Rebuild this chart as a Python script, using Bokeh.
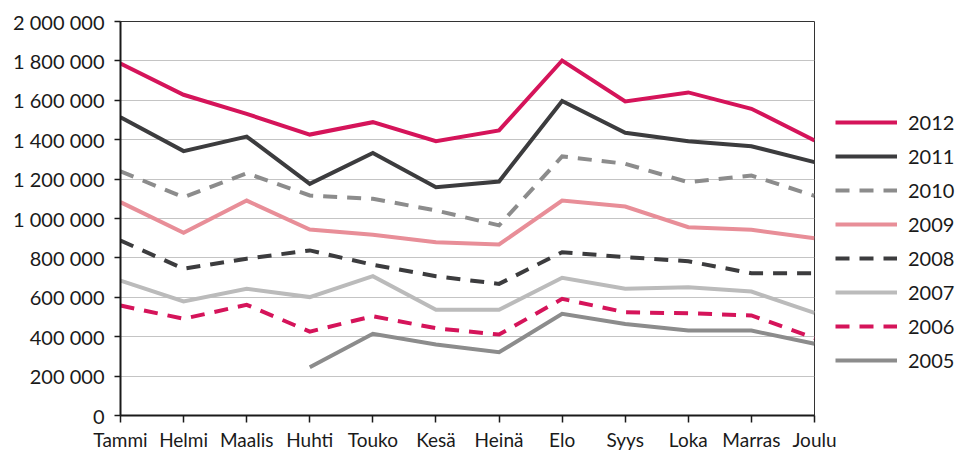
from bokeh.plotting import figure
from bokeh.models import FixedTicker, Legend, LegendItem
from bokeh.embed import file_html
from bokeh.resources import INLINE

nan = float("nan")

months = ["Tammi", "Helmi", "Maalis", "Huhti", "Touko", "Kesä", "Heinä",
          "Elo", "Syys", "Loka", "Marras", "Joulu"]

y2012 = [1787000, 1628000, 1531000, 1426000, 1489000, 1392000, 1447000, 1802000, 1594000, 1640000, 1557000, 1396000]
y2011 = [1514000, 1342000, 1416000, 1176000, 1333000, 1159000, 1188000, 1596000, 1435000, 1392000, 1367000, 1286000]
y2010 = [1239000, 1108000, 1230000, 1117000, 1100000, 1041000, 965000, 1315000, 1278000, 1184000, 1218000, 1115000]
y2009 = [1083000, 927000, 1091000, 944000, 917000, 880000, 868000, 1091000, 1061000, 956000, 943000, 900000]
y2008 = [888000, 745000, 796000, 838000, 765000, 707000, 668000, 829000, 804000, 783000, 722000, 722000]
y2007 = [685000, 579000, 643000, 601000, 707000, 537000, 537000, 699000, 643000, 651000, 629000, 521000]
y2006 = [558000, 491000, 562000, 426000, 504000, 443000, 411000, 592000, 524000, 519000, 508000, 393000]
y2005 = [nan, nan, nan, 245000, 415000, 360000, 321000, 516000, 465000, 431000, 431000, 364000]

years = ["2012", "2011", "2010", "2009", "2008", "2007", "2006", "2005"]

yticks = [0, 200000, 400000, 600000, 800000, 1000000, 1200000, 1400000, 1600000, 1800000, 2000000]
ytick_labels = ["0", "200 000", "400 000", "600 000", "800 000", "1 000 000",
                "1 200 000", "1 400 000", "1 600 000", "1 800 000", "2 000 000"]

CRIMSON = "#D5145A"
DARK = "#3C3C3E"
MID = "#8C8C8C"
PINK = "#E88E98"
LIGHT = "#BBBBBB"

styles = {
    "2012": (CRIMSON, "solid"),
    "2011": (DARK, "solid"),
    "2010": (MID, "14 10"),
    "2009": (PINK, "solid"),
    "2008": (DARK, "14 10"),
    "2007": (LIGHT, "solid"),
    "2006": (CRIMSON, "14 10"),
    "2005": (MID, "solid"),
}
series = {"2012": y2012, "2011": y2011, "2010": y2010, "2009": y2009,
          "2008": y2008, "2007": y2007, "2006": y2006, "2005": y2005}

FONT = "Lato"

p = figure(frame_width=694, frame_height=394, output_backend="svg", toolbar_location=None,
           x_range=(0, 11), y_range=(0, 2000000),
           min_border_left=120, min_border_top=21, min_border_bottom=36,
           min_border_right=0)
p.background_fill_color = "white"
p.border_fill_color = "white"
p.outline_line_color = "#333333"
p.outline_line_width = 1

xs = list(range(len(months)))
renderers = {}
for yr in reversed(years):
    col, dash = styles[yr]
    r = p.line(xs, series[yr], line_color=col, line_width=4, line_dash=dash,
               line_join="miter", line_cap="butt")
    renderers[yr] = r

items = [LegendItem(label=yr, renderers=[renderers[yr]]) for yr in years]
legend = Legend(items=items, location=(21, 43), orientation="vertical",
                glyph_width=62, glyph_height=20, label_height=20, spacing=10,
                label_standoff=11, padding=0, margin=0,
                label_text_font=FONT, label_text_font_size="20px",
                label_text_color="#1a1a1a",
                background_fill_alpha=0, border_line_alpha=0)
p.add_layout(legend, "right")

p.xgrid.visible = False
p.ygrid.grid_line_color = "#C4C4C4"
p.ygrid.grid_line_width = 1
p.ygrid.ticker = FixedTicker(ticks=yticks)

p.xaxis.ticker = FixedTicker(ticks=xs)
p.xaxis.major_label_overrides = {i: m for i, m in enumerate(months)}
p.yaxis.ticker = FixedTicker(ticks=yticks)
p.yaxis.major_label_overrides = {v: l for v, l in zip(yticks, ytick_labels)}

for ax in (p.xaxis[0], p.yaxis[0]):
    ax.axis_line_color = "#1a1a1a"
    ax.axis_line_width = 2
    ax.major_tick_line_color = "#1a1a1a"
    ax.major_tick_line_width = 1.5
    ax.major_tick_in = 0
    ax.minor_tick_line_color = None
    ax.major_label_text_font = FONT
    ax.major_label_text_color = "#1a1a1a"

p.xaxis.major_label_text_font_size = "19px"
p.yaxis.major_label_text_font_size = "20px"
p.xaxis.major_tick_out = 7
p.xaxis.major_label_standoff = 5
p.yaxis.major_tick_out = 6
p.yaxis.major_label_standoff = 10

open("out.html", "w").write(file_html(p, INLINE))
